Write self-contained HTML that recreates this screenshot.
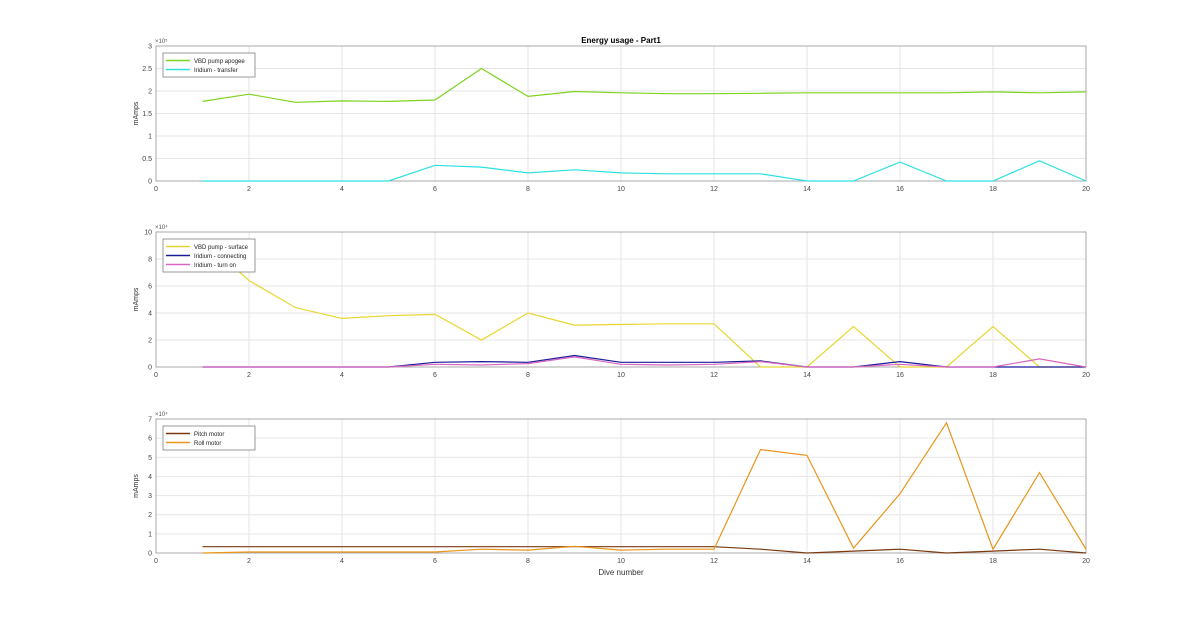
<!DOCTYPE html>
<html><head><meta charset="utf-8"><style>
body{margin:0;background:#fff;}
svg{font-family:"Liberation Sans",sans-serif;}
</style></head><body>
<svg id="chart" width="1200" height="622" xmlns="http://www.w3.org/2000/svg">
<rect width="1200" height="622" fill="#fff"/>
<text x="621" y="43" font-size="8" font-weight="bold" text-anchor="middle">Energy usage - Part1</text>
<text x="621" y="575" font-size="8" text-anchor="middle" fill="#333">Dive number</text>
</svg>
<script>
const dives = [1,2,3,4,5,6,7,8,9,10,11,12,13,14,15,16,17,18,19,20];
const xTicks = [0,2,4,6,8,10,12,14,16,18,20];
const apogee = [1.77,1.93,1.75,1.78,1.77,1.8,2.5,1.88,1.99,1.96,1.94,1.94,1.95,1.96,1.96,1.96,1.96,1.98,1.96,1.98];
const transfer = [0,0,0,0,0,0.35,0.31,0.18,0.25,0.18,0.16,0.16,0.16,0,0,0.42,0,0,0.45,0];
const surface = [9.5,6.4,4.4,3.6,3.8,3.9,2.0,4.0,3.1,3.15,3.2,3.2,0,0,3.0,0,0,3.0,0,0];
const connecting = [0,0,0,0,0,0.35,0.4,0.35,0.85,0.35,0.35,0.35,0.45,0,0,0.4,0,0,0,0];
const turnOn = [0,0,0,0,0,0.2,0.15,0.25,0.75,0.2,0.15,0.2,0.4,0,0,0.2,0,0,0.6,0];
const pitch = [0.33,0.33,0.33,0.33,0.33,0.33,0.33,0.33,0.33,0.33,0.33,0.33,0.2,0,0.1,0.2,0,0.1,0.2,0];
const roll = [0,0.05,0.05,0.05,0.05,0.05,0.2,0.15,0.35,0.15,0.2,0.2,5.4,5.1,0.25,3.1,6.8,0.2,4.2,0.2];
const yTicks1 = [0,0.5,1,1.5,2,2.5,3];
const yTicks2 = [0,2,4,6,8,10];
const yTicks3 = [0,1,2,3,4,5,6,7];

const svg = document.getElementById('chart');
const NS = 'http://www.w3.org/2000/svg';
const X0 = 156, X1 = 1086;
const xs = v => X0 + (v/20)*(X1-X0);
function mk(tag, attrs){const e=document.createElementNS(NS,tag);for(const k in attrs)e.setAttribute(k,attrs[k]);svg.appendChild(e);return e;}

const panels = [
 {top:46,bot:181,max:3,ticks:yTicks1,exp:'5',name:'panel-1',series:[[apogee,'#7ed321','vbd-pump-apogee','VBD pump apogee'],[transfer,'#2ee0e0','iridium-transfer','Iridium - transfer']]},
 {top:232,bot:367,max:10,ticks:yTicks2,exp:'4',name:'panel-2',series:[[surface,'#e8d630','vbd-pump-surface','VBD pump - surface'],[connecting,'#1a1a9a','iridium-connecting','Iridium - connecting'],[turnOn,'#d966c0','iridium-turn-on','Iridium - turn on']]},
 {top:419,bot:553,max:7,ticks:yTicks3,exp:'4',name:'panel-3',series:[[pitch,'#7a3a10','pitch-motor','Pitch motor'],[roll,'#e8951a','roll-motor','Roll motor']]}
];
panels.forEach(p=>{
  const ys = v => p.bot - (v/p.max)*(p.bot-p.top);
  const bg = mk('rect',{x:X0,y:p.top,width:X1-X0,height:p.bot-p.top,fill:'#fff',stroke:'#ccc'});
  
  
  xTicks.forEach(t=>{
    const g = mk('line',{x1:xs(t),x2:xs(t),y1:p.top,y2:p.bot,stroke:'#e6e6e6'});
    
    
    const tl = mk('text',{x:xs(t),y:p.bot+10,'font-size':7,'text-anchor':'middle',fill:'#444'});
    
    
    tl.textContent = t;
  });
  p.ticks.forEach(t=>{
    const g = mk('line',{x1:X0,x2:X1,y1:ys(t),y2:ys(t),stroke:'#e6e6e6'});
    
    
    const tl = mk('text',{x:X0-4,y:ys(t)+2.5,'font-size':7,'text-anchor':'end',fill:'#444'});
    
    
    tl.textContent = t;
  });
  const fr = mk('rect',{x:X0,y:p.top,width:X1-X0,height:p.bot-p.top,fill:'none',stroke:'#999','stroke-width':0.8});
  
  
  const ex = mk('text',{x:X0-1,y:p.top-3,'font-size':6,fill:'#555'});
  
  
  ex.textContent = '×10' + (p.exp==='5'?'⁵':'⁴');
  const yl = mk('text',{x:0,y:0,'font-size':7,'text-anchor':'middle',fill:'#333',transform:`translate(${X0-18},${(p.top+p.bot)/2}) rotate(-90)`});
  
  
  yl.textContent = 'mAmps';
  p.series.forEach(s=>{
    const pts = s[0].map((v,i)=>Math.max(p.top, ys(v)).toFixed(1) && (xs(dives[i]).toFixed(1)+','+ys(v).toFixed(1))).join(' ');
    const pl = mk('polyline',{points:pts,fill:'none',stroke:s[1],'stroke-width':1.2});
    
    
  });
  // clip overflow by redrawing white above
  const cover = mk('rect',{x:X0-2,y:p.top-20,width:X1-X0+4,height:19.5,fill:'none'});
  const lw = 92, lh = 6 + p.series.length*9;
  const lg = mk('rect',{x:163,y:p.top+7,width:lw,height:lh,fill:'#fff',stroke:'#555','stroke-width':0.6});
  
  
  p.series.forEach((s,i)=>{
    const y = p.top+7+7.5+i*9;
    const ln = mk('line',{x1:166,x2:190,y1:y,y2:y,stroke:s[1],'stroke-width':1.5});
    
    
    const tx = mk('text',{x:194,y:y+2.3,'font-size':6,fill:'#222'});
    
    
    tx.textContent = s[3];
  });
});
</script>
</body></html>
